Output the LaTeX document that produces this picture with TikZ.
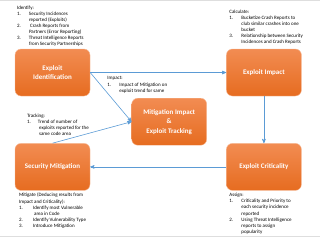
\documentclass[tikz,border=0pt]{standalone}
\usepackage{fontspec}
\setmainfont{Carlito}
\usetikzlibrary{shapes,arrows,positioning,calc}
\definecolor{boxtop}{RGB}{242,140,82}
\definecolor{boxbottom}{RGB}{230,108,32}
\definecolor{linkblue}{RGB}{91,155,213}
\definecolor{framegray}{RGB}{222,222,222}
\newcommand{\nr}[2][12pt]{\makebox[#1][l]{#2}}
\newcommand{\ind}[1][12pt]{\hspace*{#1}}

\begin{document}
\begin{tikzpicture}[
    x=1pt, y=1pt,
    >=stealth',
    stage/.style={rectangle, rounded corners=6pt, draw=boxtop!60!white, line width=0.4pt, top color=boxtop, bottom color=boxbottom, minimum width=75pt, minimum height=47pt, text=white, font=\fontsize{7}{9.5}\selectfont\bfseries, align=center},
    note/.style={inner sep=0pt, align=left, font=\fontsize{5}{6.1}\selectfont},
    link/.style={draw=linkblue, line width=0.6pt}
]
    \useasboundingbox (0,0) rectangle (320,-239);
    \draw[framegray, line width=1pt] (0,-0.5) -- (320,-0.5);
    \draw[framegray, line width=1pt] (0,-236.5) -- (320,-236.5);

    % Stages
    \node[stage] (ident) at (52.5,-72.5) {Exploit\\Identification};
    \node[stage, right=136pt of ident] (impact) {Exploit Impact};
    \node[stage, below=47pt of impact] (crit) {Exploit Criticality};
    \node[stage, below=47pt of ident] (secm) {Security Mitigation};
    \node[stage, xshift=11pt, yshift=-2pt] (mit) at ($(ident)!0.5!(crit)$) {Mitigation Impact\\\&\\Exploit Tracking};

    % Notes
    \node[note, above=2pt of ident.north west, anchor=south west, xshift=2pt] (identify) {Identify:\\
        \nr{1.}Security Incidences\\ \ind reported (Exploits)\\
        \nr{2.}\ Crash Reports from\\ \ind Partners (Error Reporting)\\
        \nr{3.}Threat Intelligence Reports\\ \ind from Security Partnerships};
    \node[note, above=4pt of impact.north west, anchor=south west, xshift=3pt] (calculate) {Calculate:\\
        \nr{1.}Bucketize Crash Reports to\\ \ind club similar crashes into one\\ \ind bucket\\
        \nr{3.}Relationship between Security\\ \ind Incidences and Crash Reports};
    \node[note, right=17pt of ident.east, anchor=north west, yshift=-4pt] (impactnote) {Impact:\\
        \nr{1.}Impact of Mitigation on\\ \ind exploit trend for same};
    \node[note, above=7pt of secm.north west, anchor=south west, xshift=12pt] (tracking) {Tracking:\\
        \nr[11pt]{1.}Trend of number of\\ \ind[11pt] exploits reported for the\\ \ind[11pt] same code area};
    \node[note, below=2.5pt of secm.south west, anchor=north west, xshift=4pt] (mitigate) {Mitigate (Deducing results from\\ Impact and Criticality):\\
        \nr[14pt]{1.}Identify most Vulnerable\\ \ind[14pt] area in Code\\
        \nr[14pt]{2.}Identify Vulnerability Type\\
        \nr[14pt]{3.}Introduce Mitigation};
    \node[note, below=2.5pt of crit.south west, anchor=north west, xshift=3pt] (assign) {Assign:\\
        \nr{1.}Criticality and Priority to\\ \ind each security incidence\\ \ind reported\\
        \nr{2.}Using Threat Intelligence\\ \ind reports to assign\\ \ind popularity};

    % Links
    \draw[link, ->] (ident.east) -- (impact.west);
    \draw[link, ->] (impact) -- (crit);
    \draw[link, ->] (crit) -- (secm);
    \draw[link, ->] (ident.east) -- (mit.west);
    \draw[link, ->] (secm.north) -- (mit.west);
\end{tikzpicture}
\end{document}
